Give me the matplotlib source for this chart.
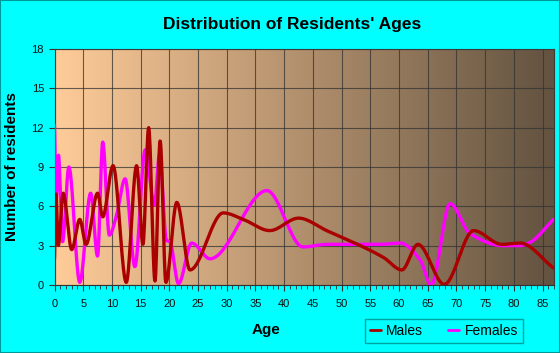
import numpy as np
import matplotlib
matplotlib.use("Agg")
import matplotlib.pyplot as plt
from matplotlib.patches import Rectangle

plt.rcParams['font.family'] = ['Liberation Sans', 'DejaVu Sans']

# values (age, number of residents)
male_ages = [0, 0.26, 0.66, 1.5, 3.0, 4.4, 5.5, 7.5, 8.4, 10.2, 12.5, 14.3, 15.4,
             16.4, 17.5, 18.4, 19.4, 21.3, 23.6, 29.4, 32.9, 37.5, 42.5, 47.4,
             57.3, 60.5, 63.3, 67.9, 73.0, 77.9, 81.1, 86.9]
male_vals = [2.0, 7.0, 3.0, 7.0, 2.7, 5.0, 3.1, 7.0, 5.2, 9.1, 0.2, 9.1, 3.1,
             12.0, 0.3, 11.0, 0.2, 6.3, 1.15, 5.5, 5.0, 4.15, 5.1, 4.15,
             2.1, 1.15, 3.1, 0.05, 4.15, 3.1, 3.2, 1.3]

female_ages = [0, 0.3, 0.7, 1.4, 2.5, 4.4, 6.3, 7.5, 8.4, 9.55, 10.8, 12.3, 14.0,
               15.8, 17.4, 18.3, 19.5, 20.1, 21.6, 23.9, 27.1, 37.0, 43.3, 47.4,
               56.7, 60.2, 63.7, 65.6, 68.9, 72.4, 78.2, 81.1, 82.8, 86.9]
female_vals = [12.2, 6.5, 9.9, 3.3, 9.0, 0.2, 7.0, 2.2, 10.9, 3.8, 5.3, 8.1, 1.4,
               10.3, 6.1, 10.0, 3.4, 3.3, 0.1, 3.2, 2.0, 7.2, 2.9, 3.1,
               3.1, 3.2, 1.9, 0.0, 6.2, 3.9, 3.0, 3.0, 3.25, 5.0]

x_ticks = list(range(0, 90, 5))
y_ticks = [0, 3, 6, 9, 12, 15, 18]


def smooth(x, y, n=1500):
    # monotone cubic (pchip-like) curve through the points, for drawing only
    x = np.asarray(x, float)
    y = np.asarray(y, float)
    h = np.diff(x)
    d = np.diff(y) / h
    m = np.zeros_like(y)
    for k in range(1, len(x) - 1):
        if d[k - 1] * d[k] > 0:
            w1 = 2 * h[k] + h[k - 1]
            w2 = h[k] + 2 * h[k - 1]
            m[k] = (w1 + w2) / (w1 / d[k - 1] + w2 / d[k])
    m[0] = d[0]
    m[-1] = d[-1]
    xs = np.linspace(x[0], x[-1], n)
    idx = np.clip(np.searchsorted(x, xs) - 1, 0, len(x) - 2)
    t = (xs - x[idx]) / h[idx]
    h00 = 2 * t**3 - 3 * t**2 + 1
    h10 = t**3 - 2 * t**2 + t
    h01 = -2 * t**3 + 3 * t**2
    h11 = t**3 - t**2
    ys = h00 * y[idx] + h10 * h[idx] * m[idx] + h01 * y[idx + 1] + h11 * h[idx] * m[idx + 1]
    return xs, ys


fig = plt.figure(figsize=(5.6, 3.53), dpi=100, facecolor='#00FFFF')
ax = fig.add_axes([54.5 / 560, 1 - 285 / 353, (554 - 54.5) / 560, (285 - 49) / 353])

# gradient background of the plot area
c0 = np.array([255, 204, 153]) / 255
c1 = np.array([98, 82, 64]) / 255
g = np.linspace(0, 1, 256)
grad = (c0[None, :] * (1 - g[:, None]) + c1[None, :] * g[:, None])[None, :, :]
ax.imshow(grad, extent=[0, 87, 0, 18], aspect='auto', zorder=0)

xm, ym = smooth(male_ages, male_vals)
xf, yf = smooth(female_ages, female_vals)
ax.plot(xf, np.clip(yf, 0, None), color='#FF00FF', lw=2.4, label='Females', zorder=3,
        solid_capstyle='round')
ax.plot(xm, np.clip(ym, 0, None), color='#AA0000', lw=2.4, label='Males', zorder=4,
        solid_capstyle='round')

ax.set_xlim(0, 87)
ax.set_ylim(0, 18)
ax.set_xticks(x_ticks)
ax.set_xticks(range(0, 88), minor=True)
ax.set_yticks(y_ticks)
ax.grid(True, color='#333333', lw=0.8, alpha=0.75, zorder=1)
for s in ['top', 'right']:
    ax.spines[s].set_color('#3a3a3a')
    ax.spines[s].set_linewidth(0.8)
ax.spines['left'].set_color('#333333')
ax.spines['bottom'].set_color('#333333')
ax.tick_params(axis='both', which='major', labelsize=8, length=4, color='#333333',
               labelcolor='#111111')
ax.tick_params(axis='x', which='minor', length=3, color='#333333')
ax.tick_params(axis='x', pad=6)

ax.set_xlabel('Age', fontsize=11, fontweight='bold')
ax.xaxis.set_label_coords((266 - 54.5) / (554 - 54.5), -0.16)
ax.set_ylabel('Number of residents', fontsize=11, fontweight='bold')
ax.yaxis.set_label_coords(-(54.5 - 19) / (554 - 54.5), 0.5)

fig.text(292 / 560, 1 - 25 / 353, "Distribution of Residents' Ages", ha='center',
         va='center', fontsize=12.5, fontweight='bold')

h, l = ax.get_legend_handles_labels()
leg = fig.legend(h[::-1], l[::-1], loc='center', bbox_to_anchor=(444 / 560, 1 - 331 / 353),
                 ncol=2, frameon=True, fancybox=False, fontsize=10, handlelength=0.8,
                 columnspacing=1.8, handletextpad=0.4, borderpad=0.35)
leg.get_frame().set_facecolor('#00FFFF')
leg.get_frame().set_edgecolor('#008B8B')
leg.get_frame().set_linewidth(1.0)
for line in leg.get_lines():
    line.set_linewidth(2.0)

fig.patches.append(Rectangle((0, 0), 1, 1, transform=fig.transFigure, fill=False,
                             edgecolor='#009999', lw=1.5))

fig.savefig('out.png', dpi=100, facecolor=fig.get_facecolor())
